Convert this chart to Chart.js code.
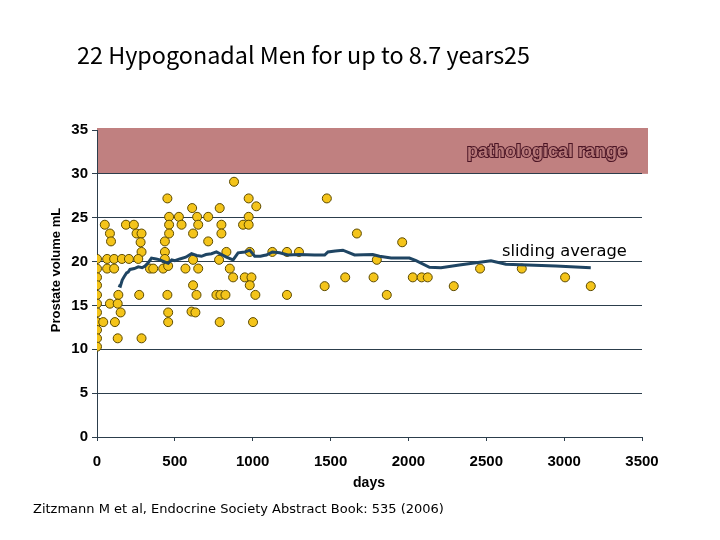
<!DOCTYPE html>
<html>
<head>
<meta charset="utf-8">
<script src="https://cdn.jsdelivr.net/npm/chart.js@4"></script>
<style>
  html, body { margin: 0; padding: 0; background: #ffffff; }
  #wrap { width: 720px; height: 540px; position: relative; }
</style>
</head>
<body>
<div id="wrap"><canvas id="c" width="720" height="540"></canvas></div>
<script>
// ---- data ----
const titleText = "22 Hypogonadal Men for up to 8.7 years25";
const yAxisTitle = "Prostate volume mL";
const xAxisTitle = "days";
const footnote = "Zitzmann M et al, Endocrine Society Abstract Book: 535 (2006)";
const rangeLabel = "pathological range";
const avgLabel = "sliding average";

const xTicks = [0, 500, 1000, 1500, 2000, 2500, 3000, 3500];
const yTicks = [0, 5, 10, 15, 20, 25, 30, 35];
const pathRange = [30, 35];

const pointDays = [
  0,0,0,0,0,0,0,0,0,0,0,
  40,50,83,90,65,65,110,110,83,115,137,133,152,133,160,186,205,237,254,286,280,286,265,271,286,
  340,361,425,436,436,436,452,463,463,463,457,452,457,457,
  526,543,568,611,617,643,650,617,650,617,639,607,632,
  714,714,788,799,799,831,784,853,874,767,793,825,788,
  880,938,974,1023,974,974,981,949,992,981,1017,1002,
  1126,1220,1297,1220,1476,1462,1594,1669,1776,1797,1861,1960,
  2028,2085,2124,2291,2460,2728,3006,3171
];
const pointVolumes = [
  20.3,19.2,18.2,17.3,16.2,15.2,14.2,13.1,12.2,11.25,10.3,
  13.1,24.2,23.2,22.3,20.3,19.2,20.3,19.2,15.2,13.1,16.2,15.2,14.2,11.25,20.3,24.2,20.3,24.2,23.2,23.2,22.2,21.1,20.3,16.2,11.25,
  19.2,19.2,19.2,22.3,21.1,20.3,27.2,25.1,24.2,23.2,19.5,16.2,14.2,13.1,
  25.1,24.2,19.2,26.1,23.2,25.1,24.2,20.2,19.2,17.3,16.2,14.3,14.2,
  25.1,22.3,26.1,24.2,23.2,21.1,20.2,19.2,18.2,16.2,16.2,16.2,13.1,
  29.1,24.2,27.2,26.3,25.1,24.2,21.1,18.2,18.2,17.3,16.2,13.1,
  21.1,21.1,21.1,16.2,27.2,17.2,18.2,23.2,18.2,20.2,16.2,22.2,
  18.2,18.2,18.2,17.2,19.2,19.2,18.2,17.2
];

const avgDays = [137,150,162,175,190,200,212,240,265,290,308,330,350,380,404,430,457,480,500,532,570,607,640,671,700,735,767,800,831,874,906,950,981,1013,1050,1070,1088,1126,1173,1226,1300,1397,1462,1483,1530,1579,1654,1771,1814,1889,2006,2049,2135,2209,2327,2530,2626,2947,3171];
const avgVolumes = [17.3,17.2,17.9,18.3,18.7,18.8,19.1,19.2,19.4,19.3,19.5,19.9,20.4,20.3,20.2,20.0,19.8,20.2,20.1,20.3,20.5,20.9,20.7,20.6,20.8,20.9,21.1,20.8,20.5,20.2,21.0,21.1,21.3,20.6,20.6,20.7,20.75,21.1,21.0,20.75,20.8,20.75,20.75,21.1,21.2,21.3,20.75,20.8,20.6,20.4,20.4,20.1,19.35,19.3,19.6,20.1,19.7,19.5,19.3];

// ---- build datasets ----
const scatterPts = pointDays.map((d, i) => ({ x: d, y: pointVolumes[i] }));
const avgPts = avgDays.map((d, i) => ({ x: d, y: avgVolumes[i] }));

const AXIS = '#2c3e4c';
const TICKFONT = { family: 'Liberation Sans, Arial, sans-serif', size: 15, weight: 'bold' };

function fitFont(ctx, text, weight, family, targetWidth) {
  ctx.font = weight + ' 20px ' + family;
  const w = ctx.measureText(text).width;
  const size = 20 * targetWidth / w;
  ctx.font = weight + ' ' + size.toFixed(2) + 'px ' + family;
}

const decor = {
  id: 'decor',
  beforeDraw(chart) {
    const { ctx, chartArea, scales } = chart;
    ctx.save();
    ctx.fillStyle = '#ffffff';
    ctx.fillRect(0, 0, chart.width, chart.height);
    const yTop = scales.y.getPixelForValue(pathRange[1]);
    const yBot = scales.y.getPixelForValue(pathRange[0]);
    ctx.fillStyle = '#c08080';
    ctx.fillRect(chartArea.left, yTop - 2, chartArea.right + 6 - chartArea.left, yBot - yTop + 2);
    ctx.restore();
  },
  afterDraw(chart) {
    const { ctx, scales } = chart;
    ctx.save();
    // title
    ctx.fillStyle = '#000';
    ctx.textBaseline = 'middle';
    ctx.textAlign = 'left';
    fitFont(ctx, titleText, 'normal', '"Noto Sans CJK KR", "Noto Sans", sans-serif', 453);
    ctx.fillText(titleText, 77, 55);
    // pathological range label (outlined)
    ctx.font = 'bold 18px "Liberation Sans", Arial, sans-serif';
    ctx.textAlign = 'center';
    const yMid = (scales.y.getPixelForValue(pathRange[0]) + scales.y.getPixelForValue(pathRange[1])) / 2;
    ctx.lineWidth = 2;
    ctx.strokeStyle = '#4a1424';
    ctx.strokeText(rangeLabel, 547, yMid);
    ctx.fillStyle = '#b87a7a';
    ctx.fillText(rangeLabel, 547, yMid);
    // sliding average label
    ctx.font = '16.3px "DejaVu Sans", sans-serif';
    ctx.fillStyle = '#000';
    ctx.textAlign = 'left';
    ctx.fillText(avgLabel, 502, 252);
    // y axis title
    ctx.save();
    ctx.translate(56, 270);
    ctx.rotate(-Math.PI / 2);
    ctx.textAlign = 'center';
    ctx.font = 'bold 13px "Liberation Sans", Arial, sans-serif';
    ctx.fillText(yAxisTitle, 0, 0);
    ctx.restore();
    // x axis title
    ctx.textAlign = 'center';
    ctx.font = 'bold 14px "Liberation Sans", Arial, sans-serif';
    ctx.fillText(xAxisTitle, 369, 483);
    // footnote
    ctx.textAlign = 'left';
    ctx.font = '13px "DejaVu Sans", sans-serif';
    ctx.fillText(footnote, 33, 510);
    ctx.restore();
  }
};

new Chart(document.getElementById('c'), {
  type: 'scatter',
  data: {
    datasets: [
      {
        label: avgLabel,
        data: avgPts,
        showLine: true,
        borderColor: '#1f4563',
        borderWidth: 3,
        pointRadius: 0,
        tension: 0,
        order: 0
      },
      {
        label: 'volume',
        data: scatterPts,
        backgroundColor: '#f4c41a',
        borderColor: '#5c4a00',
        borderWidth: 1,
        pointRadius: 4.5,
        order: 1
      }
    ]
  },
  options: {
    responsive: false,
    animation: false,
    devicePixelRatio: 1,
    layout: { padding: { left: 0, right: 78, top: 130, bottom: 0 } },
    plugins: { legend: { display: false }, tooltip: { enabled: false }, title: { display: false } },
    scales: {
      x: {
        type: 'linear',
        min: xTicks[0],
        max: xTicks[xTicks.length - 1],
        afterBuildTicks(s) { s.ticks = xTicks.map(v => ({ value: v })); },
        afterFit(s) { s.height = 103; },
        ticks: { color: '#000', font: TICKFONT, padding: 12, maxRotation: 0, callback: v => String(v) },
        grid: { drawOnChartArea: false, drawTicks: true, tickLength: 4, color: AXIS, tickColor: AXIS },
        border: { color: AXIS, width: 1 }
      },
      y: {
        type: 'linear',
        min: yTicks[0],
        max: yTicks[yTicks.length - 1],
        afterBuildTicks(s) { s.ticks = yTicks.map(v => ({ value: v })); },
        afterFit(s) { s.width = 97; },
        ticks: { color: '#000', font: TICKFONT, padding: 4, callback: v => String(v) },
        grid: {
          color: ctx => (ctx.tick && ctx.tick.value === 35) ? 'rgba(0,0,0,0)' : AXIS,
          tickColor: AXIS,
          tickLength: 5,
          lineWidth: 1
        },
        border: { color: AXIS, width: 1 }
      }
    }
  },
  plugins: [decor]
});
</script>
</body>
</html>
